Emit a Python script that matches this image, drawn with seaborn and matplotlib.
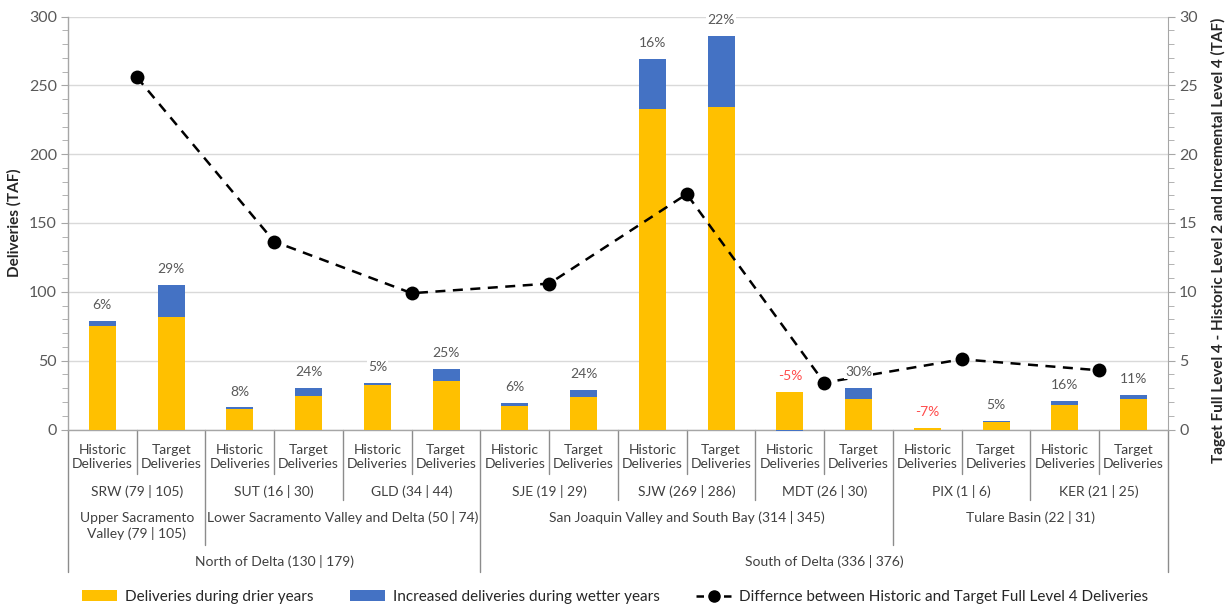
import numpy as np
import pandas as pd
import matplotlib
matplotlib.use("Agg")
import matplotlib.pyplot as plt
import matplotlib.transforms as mtransforms
from matplotlib.patches import Patch
from matplotlib.lines import Line2D
from matplotlib.ticker import MultipleLocator
import seaborn as sns

# ---- data -------------------------------------------------------------
sites = ["SRW", "SUT", "GLD", "SJE", "SJW", "MDT", "PIX", "KER"]
site_labels = ["SRW (79 | 105)", "SUT (16 | 30)", "GLD (34 | 44)", "SJE (19 | 29)",
               "SJW (269 | 286)", "MDT (26 | 30)", "PIX (1 | 6)", "KER (21 | 25)"]
scenarios = ["Historic\nDeliveries", "Target\nDeliveries"]

drier_years = [75, 82, 15, 24, 32, 35, 17, 23.5, 233, 234, 27, 22, 0.8, 5.5, 17.5, 22.5]
wetter_increase = [4, 23, 1, 6, 2, 9, 2, 5.5, 36, 52, -1, 8, -0.5, 0.5, 3, 2.5]
pct_labels = ["6%", "29%", "8%", "24%", "5%", "25%", "6%", "24%",
              "16%", "22%", "-5%", "30%", "-7%", "5%", "16%", "11%"]

difference = [25.6, 13.65, 9.9, 10.6, 17.1, 3.4, 5.1, 4.3]

region_names = ["Upper Sacramento\nValley (79 | 105)", "Lower Sacramento Valley and Delta (50 | 74)",
                "San Joaquin Valley and South Bay (314 | 345)", "Tulare Basin (22 | 31)"]
region_sites = [1, 2, 3, 2]
area_names = ["North of Delta (130 | 179)", "South of Delta (336 | 376)"]
area_regions = [2, 2]

# ---- styling ----------------------------------------------------------
sns.set_style("white")
plt.rcParams["font.family"] = ["Lato", "DejaVu Sans"]

YELLOW = "#FFC000"
BLUE = "#4472C4"
GRID = "#D9D9D9"
SPINE = "#A6A6A6"
SEP = "#8C8C8C"
TXT = "#595959"
LBL = "#404040"

W, H = 1231, 607
fig = plt.figure(figsize=(W / 100, H / 100), dpi=100)
ax = fig.add_axes([68 / W, 1 - 429.5 / H, 1100 / W, 413 / H])

keys = [f"{s}_{c}" for s in sites for c in ("H", "T")]
df = pd.DataFrame({"key": keys, "drier": drier_years, "wetter": wetter_increase})
# positive increments stack on top of the drier-year bar, negative ones hang below zero
wet_bottom = np.where(np.array(wetter_increase) >= 0, np.array(drier_years), 0.0)

sns.barplot(data=df, x="key", y="drier", order=keys, color=YELLOW, saturation=1,
            width=0.39, ax=ax, linewidth=0, zorder=3)
n_yellow = len(ax.patches)
sns.barplot(data=df, x="key", y="wetter", order=keys, color=BLUE, saturation=1,
            width=0.39, ax=ax, linewidth=0, bottom=wet_bottom, zorder=3)
for p, w in zip(ax.patches[n_yellow:], wetter_increase):
    if w < 0:
        p.set_clip_on(False)

ax.set_xlim(-0.5, len(keys) - 0.5)
ax.set_ylim(0, 300)
ax.yaxis.set_major_locator(MultipleLocator(50))
ax.yaxis.set_minor_locator(MultipleLocator(10))
ax.grid(axis="y", which="major", color=GRID, lw=1, zorder=0)
ax.set_axisbelow(True)
ax.set_xticks([])
ax.set_xlabel("")
ax.set_ylabel("")
ax.tick_params(axis="y", which="major", direction="out", length=5, color=SPINE,
               labelsize=11.5, labelcolor=TXT, left=True, pad=3)
ax.tick_params(axis="y", which="minor", direction="out", length=4, color=SPINE, left=True)
for side in ("top", "right"):
    ax.spines[side].set_visible(False)
for side in ("left", "bottom"):
    ax.spines[side].set_color(SPINE)
    ax.spines[side].set_linewidth(1)

# ---- secondary axis: difference line ---------------------------------
ax2 = ax.twinx()
line_x = [2 * i + 0.5 for i in range(len(sites))]
sns.lineplot(x=line_x, y=difference, ax=ax2, color="black", lw=1.8,
             marker="o", markersize=10, markeredgewidth=0, zorder=4)
ax2.lines[0].set_dashes([4, 3])
ax2.set_ylim(0, 30)
ax2.set_xlim(-0.5, len(keys) - 0.5)
ax2.yaxis.set_major_locator(MultipleLocator(5))
ax2.yaxis.set_minor_locator(MultipleLocator(1))
ax2.tick_params(axis="y", which="major", direction="out", length=5, color=SPINE,
                labelsize=11.5, labelcolor=TXT, right=True, pad=3)
ax2.tick_params(axis="y", which="minor", direction="out", length=4, color=SPINE, right=True)
ax2.grid(False)
for side in ("top", "left", "bottom"):
    ax2.spines[side].set_visible(False)
ax2.spines["right"].set_color(SPINE)

# ---- percentage labels ------------------------------------------------
for i, (d, w, lab) in enumerate(zip(drier_years, wetter_increase, pct_labels)):
    top = d + max(w, 0)
    ax2.annotate(lab, xy=(i, top), xycoords=ax.transData, xytext=(0, 11.5),
                 textcoords="offset points", ha="center", va="center", fontsize=10,
                 color="#FF4B4B" if lab.startswith("-") else TXT, zorder=6,
                 bbox=dict(boxstyle="square,pad=0.08", fc="white", ec="none"))

# ---- multi-level category axis ---------------------------------------
trans = mtransforms.blended_transform_factory(ax.transData, fig.transFigure)


def fy(px):
    return 1 - px / H


def sep(b, y_end):
    ax.add_line(Line2D([b - 0.5, b - 0.5], [fy(429.5), fy(y_end)], transform=trans,
                       color=SEP, lw=1, clip_on=False))


for i in range(len(keys)):
    ax.text(i, fy(457), scenarios[i % 2], transform=trans, ha="center", va="center",
            fontsize=10, color=LBL, linespacing=1.25)
for j, lab in enumerate(site_labels):
    ax.text(2 * j + 0.5, fy(491), lab, transform=trans, ha="center", va="center",
            fontsize=10, color=LBL)

# region row
region_bounds = [0]
for name, n in zip(region_names, region_sites):
    start = region_bounds[-1]
    ax.text(start + n - 0.5, fy(526 if "\n" in name else 518), name, transform=trans,
            ha="center", va="center", fontsize=10, color=LBL, linespacing=1.3)
    region_bounds.append(start + 2 * n)

# area row
area_bounds = [0]
r = 0
for name, n in zip(area_names, area_regions):
    start = area_bounds[-1]
    end = region_bounds[r + n]
    ax.text((start + end) / 2 - 0.5, fy(562), name, transform=trans, ha="center",
            va="center", fontsize=10, color=LBL)
    area_bounds.append(end)
    r += n

for b in range(len(keys) + 1):
    if b in area_bounds:
        sep(b, 572)
    elif b in region_bounds:
        sep(b, 545)
    elif b % 2 == 0:
        sep(b, 500)
    else:
        sep(b, 474)

# ---- axis titles ------------------------------------------------------
fig.text(14 / W, fy(223), "Deliveries (TAF)", rotation=90, ha="center", va="center",
         fontsize=11, fontweight="bold", color="#262626")
fig.text(1218 / W, fy(240), "Taget Full Level 4 - Historic Level 2 and Incremental Level 4 (TAF)",
         rotation=90, ha="center", va="center", fontsize=11, fontweight="bold", color="#262626")

# ---- legend -----------------------------------------------------------
handles = [
    Patch(facecolor=YELLOW, edgecolor="none", label="Deliveries during drier years"),
    Patch(facecolor=BLUE, edgecolor="none", label="Increased deliveries during wetter years"),
    Line2D([], [], color="black", lw=1.8, dashes=[3, 2.5], marker="o", markersize=8,
           label="Differnce between Historic and Target Full Level 4 Deliveries"),
]
fig.legend(handles=handles, loc="center", bbox_to_anchor=(615 / W, fy(597)), ncol=3,
           frameon=False, fontsize=11, handlelength=2.3, handleheight=0.7,
           handletextpad=0.5, columnspacing=2.4, labelcolor="#262626")

fig.savefig("out.png", dpi=100)
